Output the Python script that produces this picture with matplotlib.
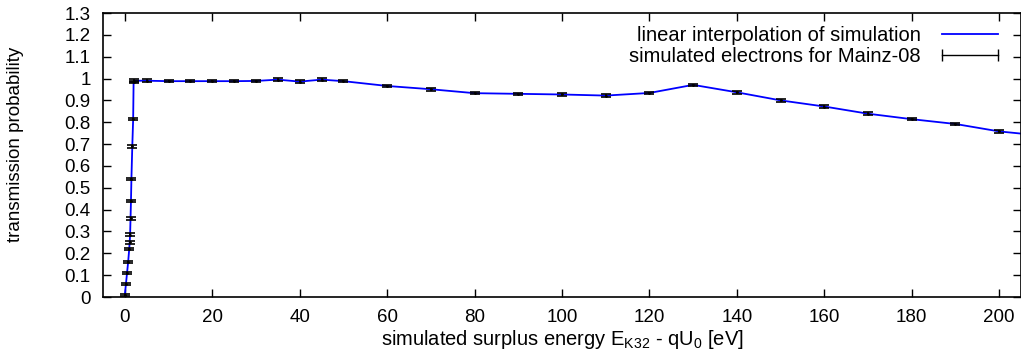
import numpy as np
import matplotlib
matplotlib.use("Agg")
import matplotlib.pyplot as plt
from matplotlib.lines import Line2D

plt.rcParams['font.family'] = ['Liberation Sans', 'DejaVu Sans']

# simulated surplus energy [eV] and transmission probability
energy = [0, 0.25, 0.5, 0.75, 1.0, 1.1, 1.2, 1.3, 1.4, 1.5, 1.7, 1.9, 2.0, 2.1,
          5, 10, 15, 20, 25, 30, 35, 40, 45, 50,
          60, 70, 80, 90, 100, 110, 120, 130, 140, 150,
          160, 170, 180, 190, 200, 210]
trans = [0.01, 0.06, 0.11, 0.16, 0.22, 0.25, 0.285, 0.36, 0.44, 0.54, 0.69, 0.815, 0.985, 0.99,
         0.99, 0.988, 0.988, 0.988, 0.988, 0.989, 0.995, 0.986, 0.995, 0.988,
         0.966, 0.951, 0.933, 0.930, 0.927, 0.922, 0.934, 0.971, 0.937, 0.900,
         0.872, 0.839, 0.814, 0.792, 0.758, 0.738]
err = [0.006] * len(energy)

xticks = list(range(0, 201, 20))
yticks = [round(0.1 * i, 1) for i in range(14)]
yticklabels = ['%g' % v for v in yticks]

fs = 13.5

fig = plt.figure(figsize=(10.21, 3.63), dpi=100)
ax = fig.add_axes([103 / 1021, 66 / 363, 918 / 1021, 284 / 363])

ax.plot(energy, trans, color='#0000ff', lw=1.3, zorder=2)
ax.errorbar(energy, trans, yerr=err, fmt='.', ms=2, color='black',
            ecolor='black', elinewidth=1.2, capsize=3.5, capthick=1.2, zorder=3)

ax.set_xlim(-5, 205)
ax.set_ylim(0, 1.3)
ax.set_xticks(xticks)
ax.set_yticks(yticks)
ax.set_yticklabels(yticklabels)
ax.tick_params(direction='in', length=6, width=1, top=True, right=True,
               labelsize=fs)
ax.tick_params(axis='x', pad=9)
ax.tick_params(axis='y', pad=9)
for s in ax.spines.values():
    s.set_linewidth(1.2)

ax.set_xlabel('simulated surplus energy E$_{\\mathregular{K32}}$ - qU$_{\\mathregular{0}}$ [eV]',
              fontsize=14.5, labelpad=1)
ax.set_ylabel('transmission probability', fontsize=fs)
ax.yaxis.set_label_coords(-0.086, 0.539)

h1 = Line2D([], [], color='#0000ff', lw=1.3)
h2 = Line2D([], [], color='black', lw=1, marker='|', ms=8)
ax.legend([h1, h2], ['linear interpolation of simulation', 'simulated electrons for Mainz-08'],
          loc='upper right', bbox_to_anchor=(0.997, 1.005), frameon=False,
          markerfirst=False, numpoints=2, fontsize=14.5, handlelength=3.4,
          handletextpad=0.75, labelspacing=0.1, borderaxespad=0.3)

fig.savefig('out.png', dpi=100)
